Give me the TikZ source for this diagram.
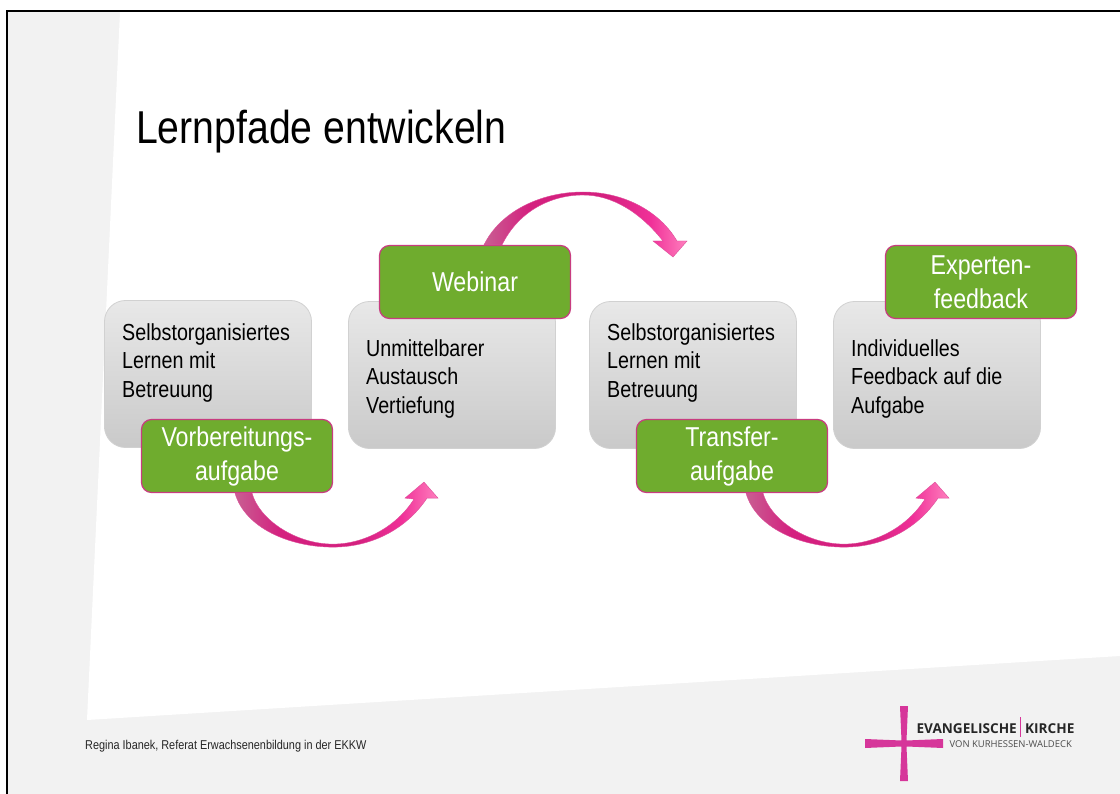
\documentclass[tikz,border=0pt]{standalone}
\usepackage{fontspec}
\setmainfont[FakeStretch=0.85]{Liberation Sans}
\newfontfamily\logofont{Open Sans}
\definecolor{pinkline}{HTML}{C83C80}
\definecolor{leafgreen}{HTML}{6FAC2E}
\definecolor{deeppink}{HTML}{D4207F}
\definecolor{brightpink}{HTML}{F03098}
\definecolor{lightpink}{HTML}{FF80BE}
\definecolor{mauve}{HTML}{C85F92}
\definecolor{logopink}{HTML}{D6369A}
\definecolor{pagegrey}{HTML}{F2F2F2}
\colorlet{hotline}{deeppink!80!white}
\pgfdeclarehorizontalshading{arrow_shade}{100bp}{color(0bp)=(mauve); color(25bp)=(mauve); color(36bp)=(deeppink); color(55bp)=(deeppink); color(66bp)=(brightpink); color(75bp)=(lightpink); color(100bp)=(lightpink)}
\tikzset{
    box_grey/.style = {rounded corners=21pt, minimum width=207pt, minimum height=147pt, inner sep=0pt, draw=black!18, line width=0.8pt, top color=black!9, bottom color=black!21},
    box_text/.style = {anchor=north west, align=left, inner sep=0pt, text=black, font=\fontsize{23.2}{28.5}\selectfont},
    box_green/.style = {align=center, rounded corners=10pt, minimum width=191pt, minimum height=73pt, inner sep=0pt, draw=pinkline, line width=1.2pt, fill=leafgreen, text=white, font=\fontsize{27.3}{34}\selectfont},
    arrow_pink/.style = {shading=arrow_shade, draw=hotline, line width=0.4pt},
    logo_text/.style = {inner sep=0pt, text=black!85, font=\logofont\bfseries\fontsize{13.6}{15}\selectfont}
}
\newcommand{\lowerarrow}[1]{
    \shade[arrow_pink, shift={(#1)}] (0,0) .. controls (10,35) and (55,54) .. (98,54)
        .. controls (138,54) and (172,35) .. (192,5) -- (203,5) -- (189,-11) -- (170,5) -- (179,6)
        .. controls (162,33) and (130,51) .. (98,51)
        .. controls (60,51) and (24,26) .. (17,0) -- cycle;
}
\begin{document}
\begin{tikzpicture}[x=1pt, y=-1pt]
    \useasboundingbox (0,0) rectangle (1120,794);
    \fill[pagegrey] (7,11) rectangle (1120,794);
    \fill[white] (120,12) -- (87,720) -- (1120,656) -- (1120,12) -- cycle;
    \draw[black, line width=2pt] (7,794) -- (7,11) -- (1120,11);
    \node [anchor=west, inner sep=0pt, font=\fontsize{46.1}{50}\selectfont] (title) at (136,132) {Lernpfade entwickeln};
    % GREY BOXES
    \node [box_grey] (box_a) at (208,374) {};
    \node [box_grey] (box_b) at (452,375) {};
    \node [box_grey] (box_c) at (693,375) {};
    \node [box_grey] (box_d) at (937,375) {};
    \node [box_text] (text_a) at (122,323) {Selbstorganisiertes\\Lernen mit\\Betreuung};
    \node [box_text] (text_b) at (366,339) {Unmittelbarer\\Austausch\\Vertiefung};
    \node [box_text] (text_c) at (607,323) {Selbstorganisiertes\\Lernen mit\\Betreuung};
    \node [box_text] (text_d) at (851,339) {Individuelles\\Feedback auf die\\Aufgabe};
    % GREEN BOXES
    \node [box_green] (green_a) at (237,456) {Vorbereitungs-\\aufgabe};
    \node [box_green] (green_b) at (475,282) {Webinar};
    \node [box_green] (green_c) at (732,456) {Transfer-\\aufgabe};
    \node [box_green] (green_d) at (981,282) {Experten-\\feedback};
    % ARROWS
    \coordinate (start_a) at ([xshift=-2pt]green_a.south);
    \coordinate (start_c) at ([xshift=14pt]green_c.south);
    \coordinate (start_b) at ([xshift=9pt]green_b.north);
    \lowerarrow{start_a}
    \lowerarrow{start_c}
    \shade[arrow_pink] (start_b) .. controls (500,212) and (540,192) .. (583,192)
        .. controls (625,192) and (660,212) .. (677,241) -- (687,241) -- (673,257) -- (653,241) -- (663,241)
        .. controls (640,212) and (612,195) .. (583,195)
        .. controls (550,195) and (518,212) .. ([xshift=18pt]start_b) -- cycle;
    \node [anchor=west, inner sep=0pt, font=\fontsize{12.8}{14}\selectfont, text=black!85] (footer) at (85,746) {Regina Ibanek, Referat Erwachsenenbildung in der EKKW};
    % LOGO
    \fill[logopink] (900,706) -- (908,706) -- (906.5,740.5) -- (943,739) -- (943,748) -- (906.5,746.5) -- (908,781) -- (900,781) -- (901.5,746.5) -- (865,748) -- (865,739) -- (901.5,740.5) -- cycle;
    \node [logo_text, anchor=base east] (logo_a) at (1017,733) {EVANGELISCHE};
    \node [logo_text, anchor=base west] (logo_b) at (1025,733) {KIRCHE};
    \node [anchor=base east, inner sep=0pt, font=\logofont\fontsize{9.45}{12}\selectfont, text=black!70] (logo_c) at (1072,747) {VON KURHESSEN-WALDECK};
    \draw[logopink, line width=1pt] (1020,717) -- (1020,737);
\end{tikzpicture}
\end{document}
